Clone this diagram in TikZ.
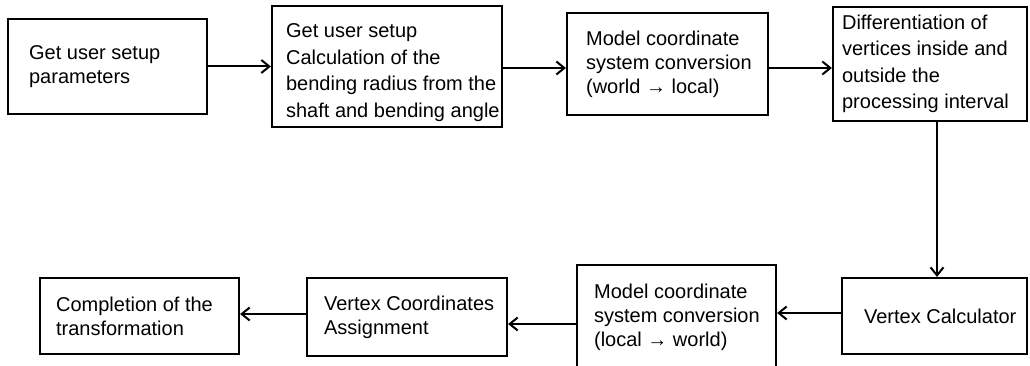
\documentclass[tikz,border=0pt]{standalone}
\usepackage{fontspec}
\setmainfont{Liberation Sans}
\usetikzlibrary{arrows.meta}
\begin{document}
\begin{tikzpicture}[x=1pt,y=-1pt,
  box/.style={draw, line width=2.2pt, inner sep=0pt, rectangle},
  txt/.style={anchor=west, align=left, inner sep=0pt, font=\fontsize{20}{24}\selectfont},
  txtb/.style={txt, font=\fontsize{20}{26.5}\selectfont},
  arr/.style={line width=2pt, -{Straight Barb[length=8pt,width=13pt]}}]
\useasboundingbox (0,0) rectangle (1030,366);
% boxes
\node[box, minimum width=199pt, minimum height=95pt]  (b1) at (107.5,66.5) {};
\node[box, minimum width=230pt, minimum height=121pt] (b2) at (387,66.5) {};
\node[box, minimum width=201pt, minimum height=102pt] (b3) at (667.5,64) {};
\node[box, minimum width=194pt, minimum height=114pt] (b4) at (930,64) {};
\node[box, minimum width=185pt, minimum height=76pt]  (b5) at (934.5,316) {};
\node[box, minimum width=199pt, minimum height=103pt] (b6) at (676.5,316.5) {};
\node[box, minimum width=200pt, minimum height=78pt]  (b7) at (407,317) {};
\node[box, minimum width=199pt, minimum height=76pt]  (b8) at (139.5,316) {};
% texts
\node[txt]  (t1) at ([xshift=22pt]b1.west) {Get user setup\\parameters};
\node[txtb] (t2) at ([xshift=15pt,yshift=-6pt]b2.west) {Get user setup\\Calculation of the\\bending radius from the\\shaft and bending angle};
\node[txt]  (t3) at ([xshift=20pt]b3.west) {Model coordinate\\system conversion\\(world → local)};
\node[txtb] (t4) at ([xshift=10pt]b4.west) {Differentiation of\\vertices inside and\\outside the\\processing interval};
\node[txt]  (t5) at ([xshift=23pt]b5.west) {Vertex Calculator};
\node[txt]  (t6) at ([xshift=18pt,yshift=-1pt]b6.west) {Model coordinate\\system conversion\\(local → world)};
\node[txt]  (t7) at ([xshift=18pt]b7.west) {Vertex Coordinates\\Assignment};
\node[txt]  (t8) at ([xshift=17pt]b8.west) {Completion of the\\transformation};
% guide coordinates
\coordinate (r1) at (0,68);
\coordinate (r2) at (937,0);
\coordinate (r3) at (0,313);
\coordinate (r4) at (0,324);
\coordinate (r5) at (0,314);
% connectors
\draw[arr] (b1.east) -- (b2.west);
\draw[arr] (b2.east |- r1) -- (b3.west |- r1);
\draw[arr] (b3.east |- r1) -- (b4.west |- r1);
\draw[arr] (b4.south -| r2) -- (b5.north -| r2);
\draw[arr] (b5.west |- r3) -- (b6.east |- r3);
\draw[arr] (b6.west |- r4) -- (b7.east |- r4);
\draw[arr] (b7.west |- r5) -- (b8.east |- r5);
\end{tikzpicture}
\end{document}
